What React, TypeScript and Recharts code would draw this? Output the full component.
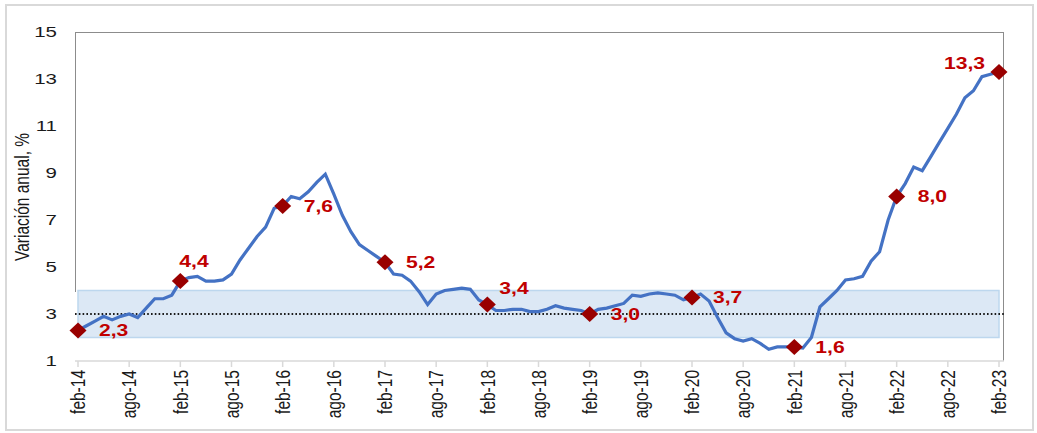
import React from 'react';
import { ComposedChart, Line, XAxis, YAxis, ReferenceArea, ReferenceLine } from 'recharts';

// serie mensual desde feb-14 hasta feb-23
const MESES = ['ene', 'feb', 'mar', 'abr', 'may', 'jun', 'jul', 'ago', 'sep', 'oct', 'nov', 'dic'];
const ANIO_INICIO = 14;
const MES_INICIO = 1; // feb

const INFLACION = [
  2.3, 2.5, 2.7, 2.9, 2.75, 2.9, 3.0, 2.85, 3.25, 3.65, 3.65, 3.8,
  4.4, 4.55, 4.6, 4.4, 4.4, 4.45, 4.7, 5.3, 5.8, 6.3, 6.7, 7.5,
  7.6, 8.0, 7.9, 8.2, 8.6, 8.95, 8.1, 7.2, 6.5, 5.95, 5.7, 5.45,
  5.2, 4.7, 4.65, 4.4, 3.95, 3.4, 3.85, 4.0, 4.05, 4.1, 4.05, 3.6,
  3.4, 3.15, 3.15, 3.2, 3.2, 3.1, 3.1, 3.2, 3.35, 3.25, 3.2, 3.15,
  3.0, 3.2, 3.25, 3.35, 3.45, 3.8, 3.75, 3.85, 3.9, 3.85, 3.8, 3.6,
  3.7, 3.85, 3.55, 2.85, 2.2, 1.95, 1.85, 1.95, 1.75, 1.5, 1.6, 1.6,
  1.6, 1.55, 2.0, 3.3, 3.65, 4.0, 4.45, 4.5, 4.6, 5.25, 5.65, 7.0,
  8.0, 8.55, 9.25, 9.1, 9.7, 10.3, 10.9, 11.5, 12.2, 12.5, 13.1, 13.2,
  13.3,
];

const Y_TICKS = [1, 3, 5, 7, 9, 11, 13, 15];
const RANGO_META = [2, 4];
const META = 3;

const data = INFLACION.map((v, i) => {
  const m = (MES_INICIO + i) % 12;
  const a = ANIO_INICIO + Math.floor((MES_INICIO + i) / 12);
  return { mes: `${MESES[m]}-${a}`, inflacion: v, hito: m === 1 ? v : null };
});

// donde va la etiqueta de cada rombo (por defecto a la derecha)
const POS_ETIQUETA: Record<string, string> = {
  'feb-15': 'arriba',
  'feb-18': 'arribaDer',
  'feb-23': 'arribaIzq',
};

const FONT = '"Liberation Sans", Arial, sans-serif';
const SX = 1.32; // el original está estirado a lo ancho

const XTick = (props: any) => {
  const { x, y, payload } = props;
  return (
    <text
      transform={`translate(${x},${y}) scale(${SX},1) rotate(-90)`}
      textAnchor="end"
      dy=".35em"
      fontSize={15.5}
      fontFamily={FONT}
      fill="#1a1a1a"
    >
      {payload.value}
    </text>
  );
};

const YTick = (props: any) => {
  const { x, y, payload } = props;
  return (
    <text
      transform={`translate(${x},${y}) scale(${SX},1)`}
      textAnchor="end"
      dy=".35em"
      fontSize={15.5}
      fontFamily={FONT}
      fill="#1a1a1a"
    >
      {payload.value}
    </text>
  );
};

const Rombo = (props: any) => {
  const { cx, cy, value, index } = props;
  if (value == null || cy == null) return <g key={`r${index}`} />;
  return (
    <polygon
      key={`r${index}`}
      points={`${cx},${cy - 8} ${cx + 8.5},${cy} ${cx},${cy + 8} ${cx - 8.5},${cy}`}
      fill="#990000"
    />
  );
};

const Etiqueta = (props: any) => {
  const { x, y, value, index } = props;
  if (value == null || y == null) return <g key={`e${index}`} />;
  const pos = POS_ETIQUETA[data[index].mes] || 'derecha';
  let tx = x + 21;
  let ty = y;
  let anchor = 'start';
  if (pos === 'arriba') { tx = x - 1; ty = y - 20; }
  if (pos === 'arribaDer') { tx = x + 12; ty = y - 16; }
  if (pos === 'arribaIzq') { tx = x - 14; ty = y - 9; anchor = 'end'; }
  return (
    <text
      key={`e${index}`}
      transform={`translate(${tx},${ty}) scale(${SX},1)`}
      textAnchor={anchor}
      dy=".35em"
      fontSize={16}
      fontWeight="bold"
      fontFamily={FONT}
      fill="#c00000"
    >
      {value.toFixed(1).replace('.', ',')}
    </text>
  );
};

export default function App() {
  return (
    <div style={{ position: 'absolute', left: 0, top: 0, width: 1037, height: 433, background: '#fff', fontFamily: FONT }}>
      <div
        style={{
          position: 'absolute', left: 5, top: 4, width: 1029, height: 427,
          border: '2px solid #d9d9d9', boxSizing: 'border-box',
        }}
      />
      <div
        style={{
          position: 'absolute', left: 75, top: 32, width: 929, height: 329,
          borderTop: '1.5px solid #8c8c8c', borderRight: '1.5px solid #8c8c8c',
          boxSizing: 'border-box',
        }}
      />
      <div
        style={{
          position: 'absolute', left: 75, top: 32, width: 0, height: 260,
          borderLeft: '1.5px solid #8c8c8c',
        }}
      />
      <div style={{ position: 'absolute', left: 0, top: 0 }}>
        <ComposedChart width={1037} height={433} data={data} margin={{ top: 32, right: 33, bottom: 0, left: 0 }}>
          <XAxis
            dataKey="mes"
            interval={5}
            height={72}
            padding={{ left: 3, right: 5 }}
            tick={<XTick />}
            tickSize={6}
            tickMargin={3}
            axisLine={{ stroke: '#d9d9d9', strokeWidth: 1.5 }}
            tickLine={{ stroke: '#d9d9d9', strokeWidth: 1.5 }}
          />
          <YAxis
            width={75}
            domain={[1, 15]}
            ticks={Y_TICKS}
            tick={<YTick />}
            tickSize={0}
            tickMargin={18}
            axisLine={false}
            tickLine={false}
            label={{
              content: () => (
                <text
                  transform={`translate(22,197) scale(${SX},1) rotate(-90)`}
                  textAnchor="middle"
                  dy=".35em"
                  fontSize={15.5}
                  fontFamily={FONT}
                  fill="#1a1a1a"
                >
                  Variación anual, %
                </text>
              ),
            }}
          />
          <ReferenceArea
            y1={RANGO_META[0]}
            y2={RANGO_META[1]}
            fill="#dce8f5"
            fillOpacity={1}
            stroke="#bdd7ee"
            strokeWidth={1.5}
          />
          <ReferenceLine y={META} stroke="#1a1a1a" strokeWidth={2} strokeDasharray="1.6 2.2" />
          <Line
            type="linear"
            dataKey="inflacion"
            stroke="#4472c4"
            strokeWidth={3.2}
            dot={false}
            isAnimationActive={false}
          />
          <Line
            type="linear"
            dataKey="hito"
            stroke="none"
            dot={<Rombo />}
            activeDot={false}
            label={<Etiqueta />}
            isAnimationActive={false}
          />
        </ComposedChart>
      </div>
    </div>
  );
}
